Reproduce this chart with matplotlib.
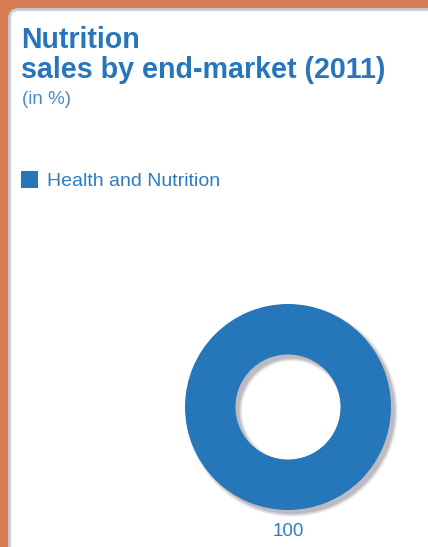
import matplotlib
matplotlib.use("Agg")
import matplotlib.pyplot as plt
from matplotlib.patches import FancyBboxPatch, Wedge

# Data
categories = ["Health and Nutrition"]
shares = [100]

W, H, DPI = 428, 547, 100
BLUE = "#2577ba"
TITLE_BLUE = "#2776bb"
ORANGE = "#d57c50"

plt.rcParams["font.family"] = ["Liberation Sans", "DejaVu Sans"]

fig = plt.figure(figsize=(W / DPI, H / DPI), dpi=DPI)
fig.patch.set_facecolor(ORANGE)

# Background axes in pixel coordinates (y grows downward)
bg = fig.add_axes([0, 0, 1, 1])
bg.set_xlim(0, W)
bg.set_ylim(H, 0)
bg.axis("off")

card = FancyBboxPatch((9.5, 9.5), W + 40, H + 40,
                      boxstyle="round,pad=0,rounding_size=9",
                      facecolor="white", edgecolor="#c4cce0", linewidth=2.0)
bg.add_patch(card)

# Titles
bg.text(21, 48, "Nutrition", fontsize=20.6, fontweight="bold",
        color=TITLE_BLUE, va="baseline", ha="left")
bg.text(21, 78, "sales by end-market (2011)", fontsize=20.6, fontweight="bold",
        color=TITLE_BLUE, va="baseline", ha="left")
bg.text(22, 104, "(in %)", fontsize=13.5, color="#4a8bc8",
        va="baseline", ha="left")

# Donut axes: centre (288, 407) px
cx, cy, half = 288, 407, 130
pax = fig.add_axes([(cx - half) / W, 1 - (cy + half) / H, 2 * half / W, 2 * half / H])
px = 1.25 / half  # data units per pixel

outer = 103 * px
inner = 52.5 * px

# Soft drop shadow beneath the ring
for i, a in enumerate([0.06, 0.09, 0.12, 0.16]):
    grow = (3 - i) * px
    sh = Wedge((4 * px, -4 * px), outer + grow, 0, 360,
               width=(outer - inner) + 2 * grow,
               facecolor="#4a4a5a", edgecolor="none", alpha=a)
    pax.add_patch(sh)

wedges, _, autotexts = pax.pie(
    shares, colors=[BLUE], startangle=90, counterclock=False,
    radius=outer, wedgeprops=dict(width=outer - inner, edgecolor="none"),
    autopct="%.0f", pctdistance=1.2,
    textprops=dict(color="#2e7dc1", fontsize=13.5))
for t in autotexts:
    t.set_position((0, -124 * px))
    t.set_va("center")
    t.set_ha("center")

pax.set_xlim(-1.25, 1.25)
pax.set_ylim(-1.25, 1.25)
pax.set_aspect("equal")
pax.axis("off")

# Legend
leg = fig.legend(wedges, categories, loc="upper left",
                 bbox_to_anchor=(20.5 / W, 1 - 171 / H),
                 frameon=False, fontsize=14, labelcolor="#2e7dc1",
                 handlelength=0.9, handleheight=0.95, handletextpad=0.45,
                 borderpad=0, borderaxespad=0)

fig.savefig("out.png", dpi=DPI, facecolor=ORANGE)
